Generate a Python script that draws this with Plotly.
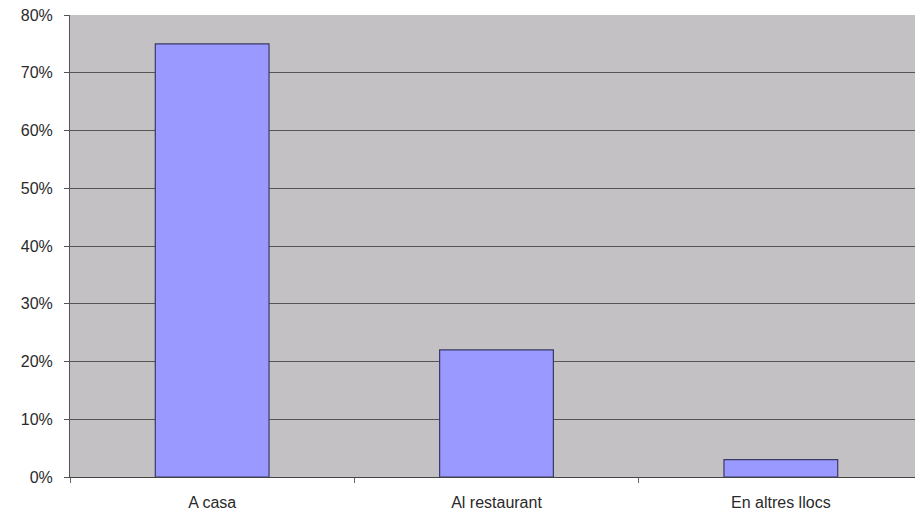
import plotly.graph_objects as go

categories = ["A casa", "Al restaurant", "En altres llocs"]
values = [0.75, 0.22, 0.03]
y_ticks = [0, 0.1, 0.2, 0.3, 0.4, 0.5, 0.6, 0.7, 0.8]
y_labels = ["0%", "10%", "20%", "30%", "40%", "50%", "60%", "70%", "80%"]

fig = go.Figure(go.Bar(
    x=categories, y=values,
    marker=dict(color="#9999FF", line=dict(color="#3a3a66", width=1.2)),
    width=0.4,
))

fig.update_layout(
    width=915, height=504,
    margin=dict(l=62, r=0, t=7, b=35),
    paper_bgcolor="white",
    plot_bgcolor="#C3C1C3",
    font=dict(family="Liberation Sans, Arial, sans-serif", size=16, color="#2a2a2a"),
    showlegend=False,
)
fig.update_xaxes(
    showgrid=False, showline=True, linecolor="#444444", linewidth=1,
    ticks="outside", tickson="boundaries", ticklen=5, tickcolor="#666666",
    range=[-0.5, 2.5], ticklabelstandoff=11, ticklabeloverflow="allow",
    automargin=False,
)
fig.update_yaxes(
    range=[0, 0.8], tickvals=y_ticks, ticktext=y_labels,
    showgrid=True, gridcolor="#555555", gridwidth=1,
    showline=True, linecolor="#555555", linewidth=1,
    ticks="outside", ticklen=5, tickcolor="#555555",
    zeroline=False, ticklabelstandoff=8, ticklabeloverflow="allow",
    automargin=False,
)

fig.write_html("out.html")
